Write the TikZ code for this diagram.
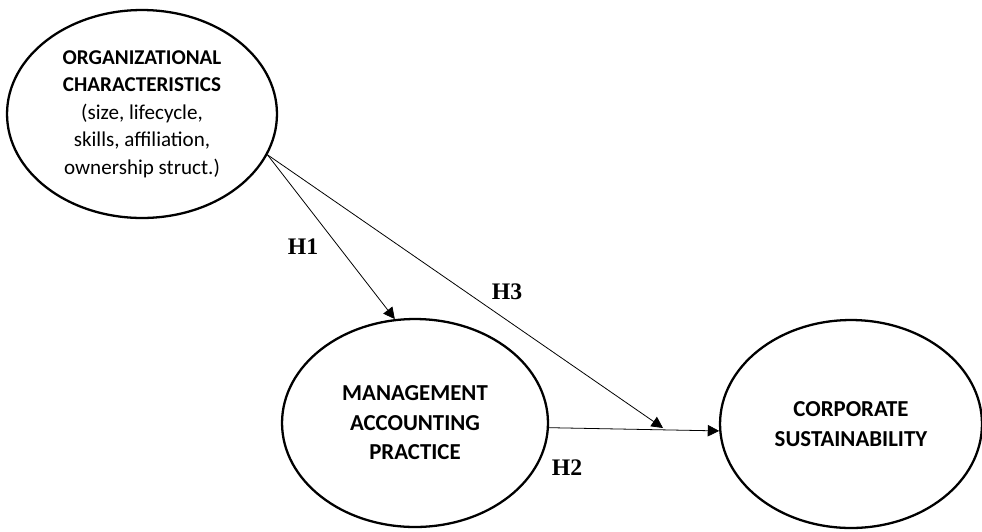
\documentclass[tikz,border=0pt]{standalone}
\usepackage{fontspec}
\setmainfont{Carlito}
\newfontfamily\hypfont{Liberation Serif}
\usetikzlibrary{shapes.geometric, arrows.meta}

\tikzstyle{construct}=[ellipse, draw, line width=1.3pt, inner sep=0pt, align=center,
  minimum height=4.16cm, font=\fontsize{13}{16.8}\selectfont]
\tikzstyle{arrow}=[line width=0.45pt, -{Triangle[length=6.5pt, width=6.5pt]}]
\tikzstyle{hyp}=[font=\hypfont\bfseries\fontsize{13.5}{15}\selectfont]

\begin{document}
\begin{tikzpicture}[x=0.02cm, y=-0.02cm]
      \useasboundingbox (0, 0) rectangle (982, 531);

      \node[construct, minimum width=5.4cm, font=\fontsize{12}{15.6}\selectfont] (org) at (142, 114)
        {\textbf{ORGANIZATIONAL}\\\textbf{CHARACTERISTICS}\\(size, lifecycle,\\skills, affiliation,\\ownership struct.)};
      \node[construct, minimum width=5.32cm] (map) at (415, 423)
        {\textbf{MANAGEMENT}\\\textbf{ACCOUNTING}\\\textbf{PRACTICE}};
      \node[construct, minimum width=5.24cm] (cs) at (851, 424)
        {\textbf{CORPORATE}\\\textbf{SUSTAINABILITY}};
      \coordinate (h3end) at (663, 428);

      \draw[arrow] (org.-18) to (map.101);
      \draw[arrow] (org.-18) to (h3end);
      \draw[arrow] (map.-2) to (cs.183);

      \node[hyp] (h1) at (303, 247) {H1};
      \node[hyp] (h3) at (507, 292) {H3};
      \node[hyp] (h2) at (567, 468) {H2};
    \end{tikzpicture}
\end{document}
